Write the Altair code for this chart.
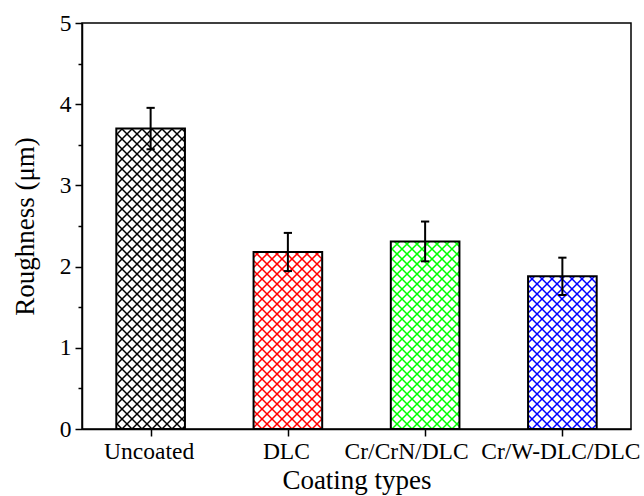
import json
import numpy as np
import pandas as pd
import altair as alt

# ---- data ----
categories = ["Uncoated", "DLC", "Cr/CrN/DLC", "Cr/W-DLC/DLC"]
roughness = [3.70, 2.18, 2.31, 1.88]
roughness_err = [0.255, 0.235, 0.245, 0.23]
hatch_colors = ["#000000", "#ff0000", "#00ff00", "#0000ff"]
y_ticks = [0, 0.5, 1, 1.5, 2, 2.5, 3, 3.5, 4, 4.5, 5]

# ---- layout / style constants ----
PLOT_W, PLOT_H = 549, 406
X_DOMAIN = [0.5, 4.5]
Y_DOMAIN = [0, 5]
BAR_HALF = 0.25      # half bar width in x units
CAP_HALF = 0.03      # half error-cap width in x units
HATCH_STEP = 10.0    # px between hatch lines (horizontal)
FONT = "Liberation Serif"

px_x = PLOT_W / (X_DOMAIN[1] - X_DOMAIN[0])
px_y = PLOT_H / (Y_DOMAIN[1] - Y_DOMAIN[0])

pos = np.arange(1, len(categories) + 1)
vals = np.array(roughness)
errs = np.array(roughness_err)

bars = pd.DataFrame({
    "cat": categories,
    "pos": pos,
    "left": pos - BAR_HALF,
    "right": pos + BAR_HALF,
    "value": vals,
    "lo": vals - errs,
    "hi": vals + errs,
})

caps = pd.DataFrame({
    "cat": categories * 2,
    "capl": list(pos - CAP_HALF) * 2,
    "capr": list(pos + CAP_HALF) * 2,
    "y": list(vals + errs) + list(vals - errs),
})

# crosshatch segments derived from each bar's rectangle (45 deg in pixel space)
segs = []
for c, p, v in zip(categories, pos, vals):
    xl = (p - BAR_HALF - X_DOMAIN[0]) * px_x
    xr = (p + BAR_HALF - X_DOMAIN[0]) * px_x
    yt = v * px_y
    k = np.floor(-xr / HATCH_STEP) * HATCH_STEP
    while k <= yt - xl:
        a, b = max(xl, -k), min(xr, yt - k)
        if b - a > 0.3:
            segs.append((c, a, a + k, b, b + k))
        k += HATCH_STEP
    k = np.floor(xl / HATCH_STEP) * HATCH_STEP
    while k <= xr + yt:
        a, b = max(xl, k - yt), min(xr, k)
        if b - a > 0.3:
            segs.append((c, a, k - a, b, k - b))
        k += HATCH_STEP

hatch = pd.DataFrame(segs, columns=["cat", "px1", "py1", "px2", "py2"])
hatch["x1"] = hatch["px1"] / px_x + X_DOMAIN[0]
hatch["x2"] = hatch["px2"] / px_x + X_DOMAIN[0]
hatch["y1"] = hatch["py1"] / px_y
hatch["y2"] = hatch["py2"] / px_y

xs = alt.Scale(domain=X_DOMAIN, nice=False, zero=False)
ys = alt.Scale(domain=Y_DOMAIN, nice=False, zero=False)

x_axis = alt.Axis(
    values=[int(v) for v in pos],
    labelExpr=f"{json.dumps(categories)}[datum.value - 1]",
    title="Coating types",
    grid=False, labelFlush=False, labelOverlap=False, tickSize=7,
    labelPadding=3, titlePadding=5,
    labelOffset={"condition": {"test": "datum.value === 3", "value": -19}, "value": -2},
)
y_axis = alt.Axis(
    values=y_ticks,
    labelExpr="datum.value % 1 === 0 ? format(datum.value, 'd') : ''",
    title="Roughness (μm)",
    grid=False, labelFlush=False, labelOverlap=False,
    tickSize={"condition": {"test": "datum.value % 1 !== 0", "value": 4}, "value": 7},
    labelPadding=4, titlePadding=20,
)

hatch_layer = alt.Chart(hatch).mark_rule(strokeWidth=1.5).encode(
    x=alt.X("x1:Q", scale=xs, axis=x_axis),
    x2="x2:Q",
    y=alt.Y("y1:Q", scale=ys, axis=y_axis),
    y2="y2:Q",
    color=alt.Color("cat:N", scale=alt.Scale(domain=categories, range=hatch_colors), legend=None),
)

outline = alt.Chart(bars).mark_rect(fillOpacity=0, stroke="black", strokeWidth=2).encode(
    x=alt.X("left:Q", scale=xs, axis=x_axis),
    x2="right:Q",
    y=alt.Y("value:Q", scale=ys, axis=y_axis),
    y2=alt.datum(0),
)

err_line = alt.Chart(bars).mark_rule(color="black", strokeWidth=2).encode(
    x=alt.X("pos:Q", scale=xs, axis=x_axis),
    y=alt.Y("lo:Q", scale=ys, axis=y_axis),
    y2="hi:Q",
)

err_caps = alt.Chart(caps).mark_rule(color="black", strokeWidth=2).encode(
    x=alt.X("capl:Q", scale=xs, axis=x_axis),
    x2="capr:Q",
    y=alt.Y("y:Q", scale=ys, axis=y_axis),
)

chart = alt.layer(hatch_layer, outline, err_line, err_caps).properties(
    width=PLOT_W, height=PLOT_H,
    autosize=alt.AutoSizeParams(type="none"),
    padding={"left": 82, "top": 23, "right": 13, "bottom": 67},
).configure_view(
    stroke="black", strokeWidth=1.5
).configure_axis(
    domainColor="black", domainWidth=1.5,
    tickColor="black", tickWidth=1.5,
    labelFont=FONT, labelFontSize=23.5, labelColor="black",
    titleFont=FONT, titleFontSize=27, titleFontWeight="normal", titleColor="black",
)

chart.save("out.html", embed_options={"renderer": "svg", "actions": False})
